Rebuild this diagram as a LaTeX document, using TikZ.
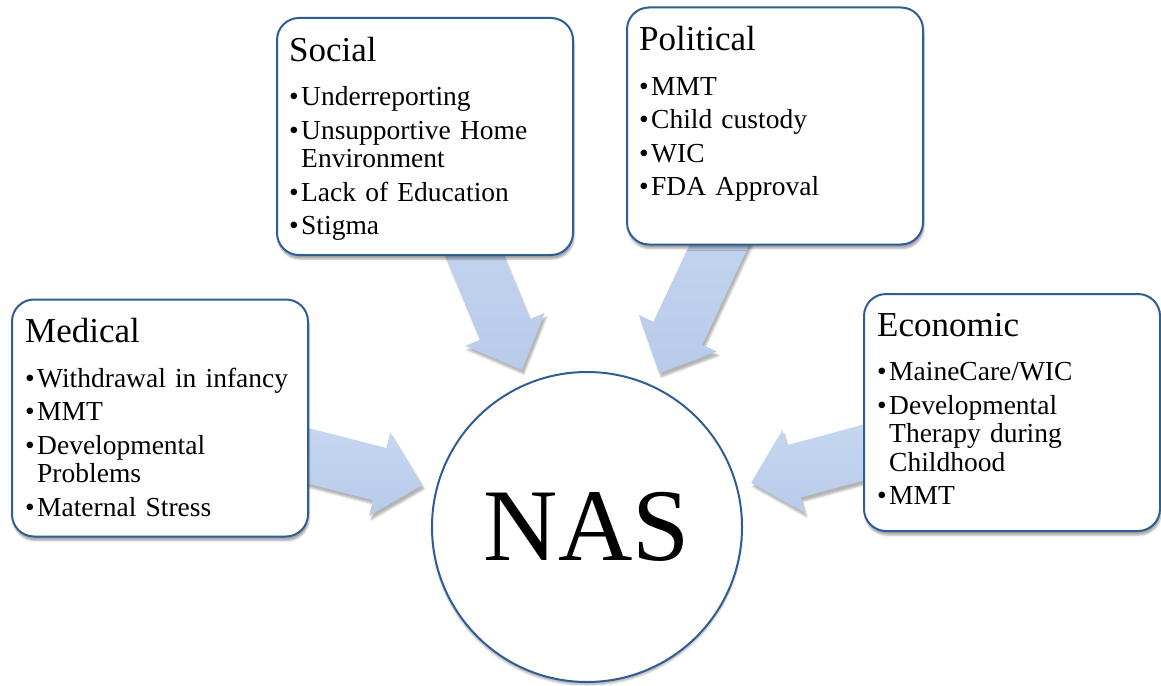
\documentclass[tikz,border=0pt]{standalone}
\usepackage{fontspec}
\setmainfont{Liberation Serif}
\usetikzlibrary{calc,shadows.blur}

\pgfdeclarelayer{background}
\pgfsetlayers{background,main}

\definecolor{boxline}{RGB}{47,93,150}
\definecolor{flowtop}{RGB}{204,219,242}
\definecolor{flowbot}{RGB}{184,203,234}

\tikzset{
  factor/.style={draw=boxline, line width=2pt, fill=white, rounded corners=22pt,
    minimum width=296pt, minimum height=237pt,
    blur shadow={shadow xshift=1pt, shadow yshift=-4pt, shadow opacity=35}},
  factortext/.style={anchor=north west, inner sep=0pt, text width=275pt, align=left,
    font={\fontsize{27.5}{28.5}\selectfont\setlength{\parskip}{5pt}}},
  hub/.style={circle, draw=boxline, line width=2pt, fill=white, minimum size=310pt,
    blur shadow={shadow xshift=0pt, shadow yshift=-3pt, shadow opacity=30},
    font=\fontsize{103}{103}\selectfont},
  flow/.style={top color=flowtop, bottom color=flowbot,
    blur shadow={shadow xshift=2pt, shadow yshift=-4pt, shadow opacity=30}}
}

% box title and bullet lines
\newcommand{\heading}[1]{{\fontsize{35}{40}\selectfont #1\par}\vspace{11pt}}
\newcommand{\point}{\par\hangindent=12pt\hangafter=1\noindent\makebox[12pt][l]{\textbullet}}

% fat arrow from a box towards the hub
\newcommand{\bigarrow}[1]{%
  \coordinate (tip) at ($(nas.center)!170pt!(#1.center)$);
  \coordinate (neck) at ($(tip)!44pt!(#1.center)$);
  \path[flow] ($(#1.center)!27pt!90:(tip)$) -- ($(neck)!27pt!-90:(#1.center)$)
    -- ($(neck)!43pt!-90:(#1.center)$) -- (tip) -- ($(neck)!43pt!90:(#1.center)$)
    -- ($(neck)!27pt!90:(#1.center)$) -- ($(#1.center)!27pt!-90:(tip)$) -- cycle;
}

\begin{document}
\begin{tikzpicture}[x=1pt,y=-1pt]
  \useasboundingbox (0,0) rectangle (1161,685);

  \node[factor] (social)    at (425,136.5) {};
  \node[factor] (political) at (775,126) {};
  \node[factor] (medical)   at (160,418) {};
  \node[factor] (economic)  at (1012,412.5) {};

  \node[factortext] (socialtext) at ([shift={(13,20)}]social.north west) {%
    \heading{Social}
    \point Underreporting
    \point Unsupportive Home\newline Environment
    \point Lack of Education
    \point Stigma\par};
  \node[factortext] (politicaltext) at ([shift={(13,20)}]political.north west) {%
    \heading{Political}
    \point MMT
    \point Child custody
    \point WIC
    \point FDA Approval\par};
  \node[factortext] (medicaltext) at ([shift={(14,20)}]medical.north west) {%
    \heading{Medical}
    \point Withdrawal in infancy
    \point MMT
    \point Developmental\newline Problems
    \point Maternal Stress\par};
  \node[factortext] (economictext) at ([shift={(14,20)}]economic.north west) {%
    \heading{Economic}
    \point MaineCare/WIC
    \point Developmental\newline Therapy during\newline Childhood
    \point MMT\par};

  \node[hub] (nas) at (587,527) {NAS};

  \begin{pgfonlayer}{background}
    \bigarrow{social}
    \bigarrow{political}
    \bigarrow{medical}
    \bigarrow{economic}
  \end{pgfonlayer}
\end{tikzpicture}
\end{document}
